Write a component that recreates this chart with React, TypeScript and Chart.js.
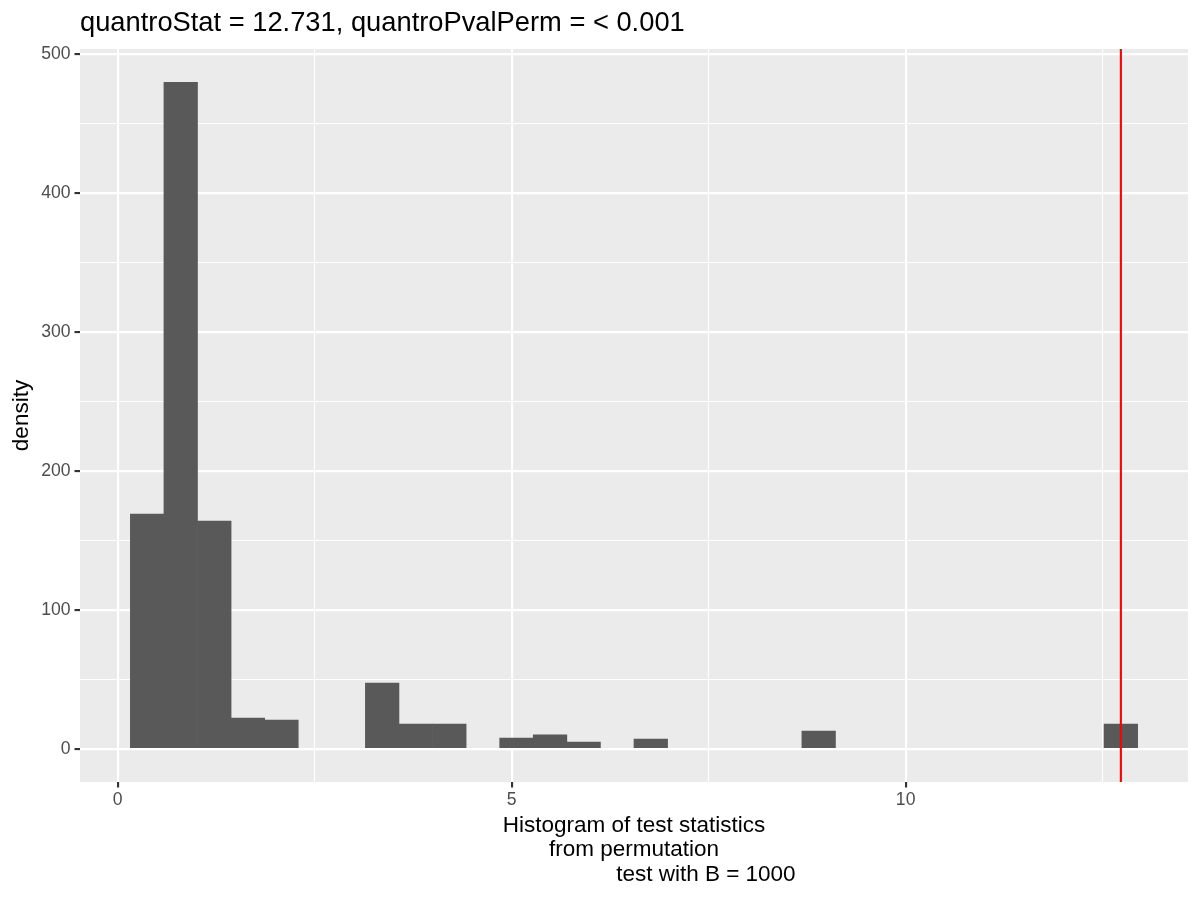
import React, { useEffect, useRef } from "react";
import { Chart, registerables } from "chart.js";

Chart.register(...registerables);

// ---- data ----
const TITLE = "quantroStat = 12.731, quantroPvalPerm = < 0.001";
const Y_TITLE = "density";
const X_TITLE_LINES = [
  "Histogram of test statistics",
  "from permutation",
  "                       test with B = 1000",
];

const N_BINS = 30;
const FIRST_BIN_CENTER = 0.375;
const LAST_BIN_CENTER = 12.731;
const DENSITY = [
  169, 480, 164, 22, 20.6, 0, 0, 47.3, 17.8, 17.8,
  0, 7.7, 9.9, 4.8, 0, 7, 0, 0, 0, 0,
  12.7, 0, 0, 0, 0, 0, 0, 0, 0, 17.8,
];
const OBSERVED_STAT = 12.731;

const X_MAJOR = [0, 5, 10];
const X_MINOR = [2.5, 7.5, 12.5];
const Y_MAJOR = [0, 100, 200, 300, 400, 500];
const Y_MINOR = [50, 150, 250, 350, 450];
const X_LIMITS = [-0.477, 13.583];
const Y_LIMITS = [-24, 504];

const FONT = "'Liberation Sans', Arial, sans-serif";

export default function App() {
  const ref = useRef<HTMLCanvasElement | null>(null);

  useEffect(() => {
    if (!ref.current) return;
    const binWidth = (LAST_BIN_CENTER - FIRST_BIN_CENTER) / (N_BINS - 1);
    const points = DENSITY.map((d, i) => ({
      x: FIRST_BIN_CENTER + i * binWidth,
      y: d === 0 ? null : d,
    }));

    const isMajor = (arr: number[], v: number) => arr.some((m) => Math.abs(m - v) < 1e-9);

    const panelBg = {
      id: "panelBg",
      beforeDraw(chart: any) {
        const { ctx, chartArea } = chart;
        ctx.save();
        ctx.fillStyle = "#FFFFFF";
        ctx.fillRect(0, 0, chart.width, chart.height);
        ctx.fillStyle = "#EBEBEB";
        ctx.fillRect(chartArea.left, chartArea.top, chartArea.right - chartArea.left, chartArea.bottom - chartArea.top);
        ctx.restore();
      },
    };

    const vline = {
      id: "vline",
      afterDatasetsDraw(chart: any) {
        const { ctx, chartArea, scales } = chart;
        const x = scales.x.getPixelForValue(OBSERVED_STAT);
        ctx.save();
        ctx.strokeStyle = "#FF0000";
        ctx.lineWidth = 2.13;
        ctx.beginPath();
        ctx.moveTo(x, chartArea.top);
        ctx.lineTo(x, chartArea.bottom);
        ctx.stroke();
        ctx.restore();
      },
    };

    const ggTitle = {
      id: "ggTitle",
      afterDraw(chart: any) {
        const { ctx, chartArea } = chart;
        ctx.save();
        ctx.font = `27.3px ${FONT}`;
        ctx.fillStyle = "#000000";
        ctx.textAlign = "left";
        ctx.textBaseline = "alphabetic";
        ctx.fillText(TITLE, chartArea.left, 31);
        ctx.restore();
      },
    };

    const chart = new Chart(ref.current, {
      type: "bar",
      data: {
        datasets: [
          {
            data: points as any,
            backgroundColor: "#595959",
            borderWidth: 0,
            barPercentage: 1,
            categoryPercentage: 1,
          },
        ],
      },
      options: {
        animation: false,
        responsive: false,
        events: [],
        layout: { padding: { top: 49, right: 12, bottom: 0, left: 0 } },
        plugins: {
          legend: { display: false },
          tooltip: { enabled: false },
          title: { display: false },
        },
        scales: {
          x: {
            type: "linear",
            min: X_LIMITS[0],
            max: X_LIMITS[1],
            bounds: "data",
            offset: false,
            afterBuildTicks: (s: any) => {
              s.ticks = [...X_MAJOR, ...X_MINOR].sort((a, b) => a - b).map((v) => ({ value: v }));
            },
            afterFit: (s: any) => {
              s.height = 118;
            },
            border: { display: false },
            grid: {
              offset: false,
              color: "#FFFFFF",
              lineWidth: (c: any) => (isMajor(X_MAJOR, c.tick?.value) ? 2.13 : 1.07),
              drawTicks: true,
              tickLength: 5.5,
              tickColor: (c: any) => (isMajor(X_MAJOR, c.tick?.value) ? "#333333" : "rgba(0,0,0,0)"),
              tickWidth: (c: any) => (isMajor(X_MAJOR, c.tick?.value) ? 2.13 : 0),
            },
            ticks: {
              autoSkip: false,
              maxRotation: 0,
              padding: 2.5,
              color: "#4D4D4D",
              font: { family: FONT, size: 17.6 },
              callback: (v: any) => (isMajor(X_MAJOR, Number(v)) ? String(v) : ""),
            },
            title: {
              display: true,
              text: X_TITLE_LINES,
              color: "#000000",
              font: { family: FONT, size: 22.5, lineHeight: "24.5px" },
              padding: { top: 0, bottom: 13 },
            },
          },
          y: {
            type: "linear",
            min: Y_LIMITS[0],
            max: Y_LIMITS[1],
            bounds: "data",
            afterBuildTicks: (s: any) => {
              s.ticks = [...Y_MAJOR, ...Y_MINOR].sort((a, b) => a - b).map((v) => ({ value: v }));
            },
            afterFit: (s: any) => {
              s.width = 80;
            },
            border: { display: false },
            grid: {
              color: "#FFFFFF",
              lineWidth: (c: any) => (isMajor(Y_MAJOR, c.tick?.value) ? 2.13 : 1.07),
              drawTicks: true,
              tickLength: 5.5,
              tickColor: (c: any) => (isMajor(Y_MAJOR, c.tick?.value) ? "#333333" : "rgba(0,0,0,0)"),
              tickWidth: (c: any) => (isMajor(Y_MAJOR, c.tick?.value) ? 2.13 : 0),
            },
            ticks: {
              autoSkip: false,
              padding: 4,
              color: "#4D4D4D",
              font: { family: FONT, size: 17.6 },
              callback: (v: any) => (isMajor(Y_MAJOR, Number(v)) ? String(v) : ""),
            },
            title: {
              display: true,
              text: Y_TITLE,
              color: "#000000",
              font: { family: FONT, size: 22.5 },
              padding: { top: 8.5, bottom: 0 },
            },
          },
        },
      } as any,
      plugins: [panelBg, vline, ggTitle],
    });

    return () => chart.destroy();
  }, []);

  return (
    <div style={{ position: "absolute", left: 0, top: 0, width: 1200, height: 900 }}>
      <canvas ref={ref} width={1200} height={900} style={{ display: "block", width: 1200, height: 900 }} />
    </div>
  );
}
